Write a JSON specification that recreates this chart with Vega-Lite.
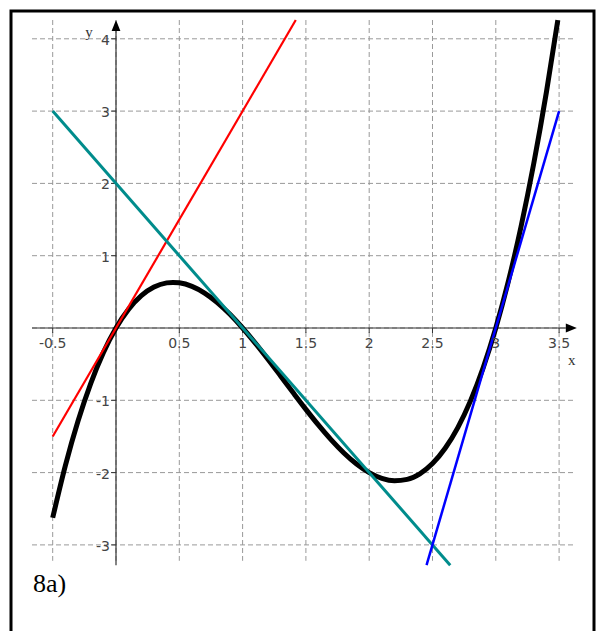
{
  "$schema": "https://vega.github.io/schema/vega-lite/v6.json",
  "autosize": "none",
  "width": 583,
  "height": 625,
  "padding": {"left": 11, "top": 11, "right": 6, "bottom": 0},
  "background": "white",
  "config": {"view": {"stroke": "black", "strokeWidth": 3}, "axis": {"disable": true}},
  "datasets": {
    "gridx": [{"v": -0.5}, {"v": 0}, {"v": 0.5}, {"v": 1}, {"v": 1.5}, {"v": 2}, {"v": 2.5}, {"v": 3}, {"v": 3.5}],
    "gridy": [{"v": -3}, {"v": -2}, {"v": -1}, {"v": 0}, {"v": 1}, {"v": 2}, {"v": 3}, {"v": 4}],
    "xlabels": [{"v": -0.5, "t": "-0.5"}, {"v": 0.5, "t": "0.5"}, {"v": 1, "t": "1"}, {"v": 1.5, "t": "1.5"}, {"v": 2, "t": "2"}, {"v": 2.5, "t": "2.5"}, {"v": 3, "t": "3"}, {"v": 3.5, "t": "3.5"}],
    "ylabels": [{"v": -3, "t": "-3"}, {"v": -2, "t": "-2"}, {"v": -1, "t": "-1"}, {"v": 1, "t": "1"}, {"v": 2, "t": "2"}, {"v": 3, "t": "3"}, {"v": 4, "t": "4"}],
    "curve": [
      {"x": -0.5, "y": -2.625}, {"x": -0.4, "y": -1.904}, {"x": -0.3, "y": -1.287}, {"x": -0.2, "y": -0.768}, {"x": -0.1, "y": -0.341},
      {"x": 0, "y": 0}, {"x": 0.1, "y": 0.261}, {"x": 0.2, "y": 0.448}, {"x": 0.3, "y": 0.567}, {"x": 0.4, "y": 0.624},
      {"x": 0.45, "y": 0.631}, {"x": 0.5, "y": 0.625}, {"x": 0.6, "y": 0.576}, {"x": 0.7, "y": 0.483}, {"x": 0.8, "y": 0.352},
      {"x": 0.9, "y": 0.189}, {"x": 1.0, "y": 0}, {"x": 1.1, "y": -0.209}, {"x": 1.2, "y": -0.432}, {"x": 1.3, "y": -0.663},
      {"x": 1.4, "y": -0.896}, {"x": 1.5, "y": -1.125}, {"x": 1.6, "y": -1.344}, {"x": 1.7, "y": -1.547}, {"x": 1.8, "y": -1.728},
      {"x": 1.9, "y": -1.881}, {"x": 2.0, "y": -2.0}, {"x": 2.1, "y": -2.079}, {"x": 2.2, "y": -2.112}, {"x": 2.3, "y": -2.093},
      {"x": 2.4, "y": -2.016}, {"x": 2.5, "y": -1.875}, {"x": 2.6, "y": -1.664}, {"x": 2.7, "y": -1.377}, {"x": 2.8, "y": -1.008},
      {"x": 2.9, "y": -0.551}, {"x": 3.0, "y": 0}, {"x": 3.1, "y": 0.651}, {"x": 3.2, "y": 1.408}, {"x": 3.3, "y": 2.277},
      {"x": 3.4, "y": 3.264}, {"x": 3.49, "y": 4.258}
    ],
    "red": [{"x": -0.5, "y": -1.5}, {"x": 1.42, "y": 4.26}],
    "teal": [{"x": -0.5, "y": 3}, {"x": 2.64, "y": -3.28}],
    "blue": [{"x": 2.453, "y": -3.28}, {"x": 3.5, "y": 3}]
  },
  "layer": [
    {
      "data": {"name": "gridx"},
      "mark": {"type": "rule", "color": "#999999", "strokeDash": [5, 3], "strokeWidth": 1},
      "encoding": {
        "x": {"field": "v", "type": "quantitative", "scale": {"domain": [-0.8294, 3.7757], "nice": false, "zero": false}, "axis": null},
        "y": {"datum": 4.26, "type": "quantitative", "scale": {"domain": [-4.26, 4.3845], "nice": false, "zero": false}, "axis": null},
        "y2": {"datum": -3.22}
      }
    },
    {
      "data": {"name": "gridy"},
      "mark": {"type": "rule", "color": "#999999", "strokeDash": [5, 3], "strokeWidth": 1},
      "encoding": {
        "y": {"field": "v", "type": "quantitative", "axis": null},
        "x": {"datum": -0.6635, "type": "quantitative", "axis": null},
        "x2": {"datum": 3.61}
      }
    },
    {
      "data": {"values": [{}]},
      "mark": {"type": "rule", "color": "#333333", "strokeWidth": 1.2},
      "encoding": {
        "y": {"datum": 0, "type": "quantitative", "axis": null},
        "x": {"datum": -0.6635, "type": "quantitative", "axis": null},
        "x2": {"datum": 3.6}
      }
    },
    {
      "data": {"values": [{}]},
      "mark": {"type": "rule", "color": "#333333", "strokeWidth": 1.2},
      "encoding": {
        "x": {"datum": 0, "type": "quantitative", "axis": null},
        "y": {"datum": -3.28, "type": "quantitative", "axis": null},
        "y2": {"datum": 4.2}
      }
    },
    {
      "data": {"values": [{}]},
      "mark": {"type": "point", "shape": "M0,0L0.8,2L-0.8,2Z", "size": 121, "filled": true, "color": "black", "opacity": 1},
      "encoding": {
        "x": {"datum": 0, "type": "quantitative", "axis": null},
        "y": {"datum": 4.26, "type": "quantitative", "axis": null}
      }
    },
    {
      "data": {"values": [{}]},
      "mark": {"type": "point", "shape": "M0,0L-2,-0.8L-2,0.8Z", "size": 121, "filled": true, "color": "black", "opacity": 1},
      "encoding": {
        "x": {"datum": 3.64, "type": "quantitative", "axis": null},
        "y": {"datum": 0, "type": "quantitative", "axis": null}
      }
    },
    {
      "data": {"name": "ylabels"},
      "mark": {"type": "point", "shape": "M0,0L-1,0", "size": 100, "filled": false, "stroke": "#333333", "strokeWidth": 1, "opacity": 1},
      "encoding": {
        "x": {"datum": 0, "type": "quantitative", "axis": null},
        "y": {"field": "v", "type": "quantitative", "axis": null}
      }
    },
    {
      "data": {"name": "xlabels"},
      "mark": {"type": "point", "shape": "M0,0L0,1", "size": 100, "filled": false, "stroke": "#333333", "strokeWidth": 1, "opacity": 1},
      "encoding": {
        "x": {"field": "v", "type": "quantitative", "axis": null},
        "y": {"datum": 0, "type": "quantitative", "axis": null}
      }
    },
    {
      "data": {"name": "curve"},
      "mark": {"type": "line", "color": "black", "strokeWidth": 5, "interpolate": "monotone"},
      "encoding": {
        "x": {"field": "x", "type": "quantitative", "axis": null},
        "y": {"field": "y", "type": "quantitative", "axis": null}
      }
    },
    {
      "data": {"name": "red"},
      "mark": {"type": "line", "color": "#ff0000", "strokeWidth": 2.2},
      "encoding": {
        "x": {"field": "x", "type": "quantitative", "axis": null},
        "y": {"field": "y", "type": "quantitative", "axis": null}
      }
    },
    {
      "data": {"name": "teal"},
      "mark": {"type": "line", "color": "#008c8c", "strokeWidth": 3},
      "encoding": {
        "x": {"field": "x", "type": "quantitative", "axis": null},
        "y": {"field": "y", "type": "quantitative", "axis": null}
      }
    },
    {
      "data": {"name": "blue"},
      "mark": {"type": "line", "color": "#0000ff", "strokeWidth": 2.5},
      "encoding": {
        "x": {"field": "x", "type": "quantitative", "axis": null},
        "y": {"field": "y", "type": "quantitative", "axis": null}
      }
    },
    {
      "data": {"name": "xlabels"},
      "mark": {"type": "text", "font": "DejaVu Sans", "fontSize": 14, "color": "#444444", "align": "center", "baseline": "middle", "dy": 15.5},
      "encoding": {
        "x": {"field": "v", "type": "quantitative", "axis": null},
        "y": {"datum": 0, "type": "quantitative", "axis": null},
        "text": {"field": "t"}
      }
    },
    {
      "data": {"name": "ylabels"},
      "mark": {"type": "text", "font": "DejaVu Sans", "fontSize": 14, "color": "#444444", "align": "right", "baseline": "middle", "dx": -6, "dy": 2},
      "encoding": {
        "x": {"datum": 0, "type": "quantitative", "axis": null},
        "y": {"field": "v", "type": "quantitative", "axis": null},
        "text": {"field": "t"}
      }
    },
    {
      "data": {"values": [{}]},
      "mark": {"type": "text", "text": "x", "font": "Liberation Serif", "fontSize": 15, "color": "#333333", "align": "center", "baseline": "middle"},
      "encoding": {
        "x": {"datum": 3.6, "type": "quantitative", "axis": null},
        "y": {"datum": -0.44, "type": "quantitative", "axis": null}
      }
    },
    {
      "data": {"values": [{}]},
      "mark": {"type": "text", "text": "y", "font": "Liberation Serif", "fontSize": 15, "color": "#333333", "align": "center", "baseline": "middle"},
      "encoding": {
        "x": {"datum": -0.213, "type": "quantitative", "axis": null},
        "y": {"datum": 4.1, "type": "quantitative", "axis": null}
      }
    },
    {
      "data": {"values": [{}]},
      "mark": {"type": "text", "text": "8a)", "font": "Liberation Serif", "fontSize": 26, "color": "black", "align": "left", "baseline": "alphabetic"},
      "encoding": {
        "x": {"datum": -0.656, "type": "quantitative", "axis": null},
        "y": {"datum": -3.65, "type": "quantitative", "axis": null}
      }
    }
  ]
}
